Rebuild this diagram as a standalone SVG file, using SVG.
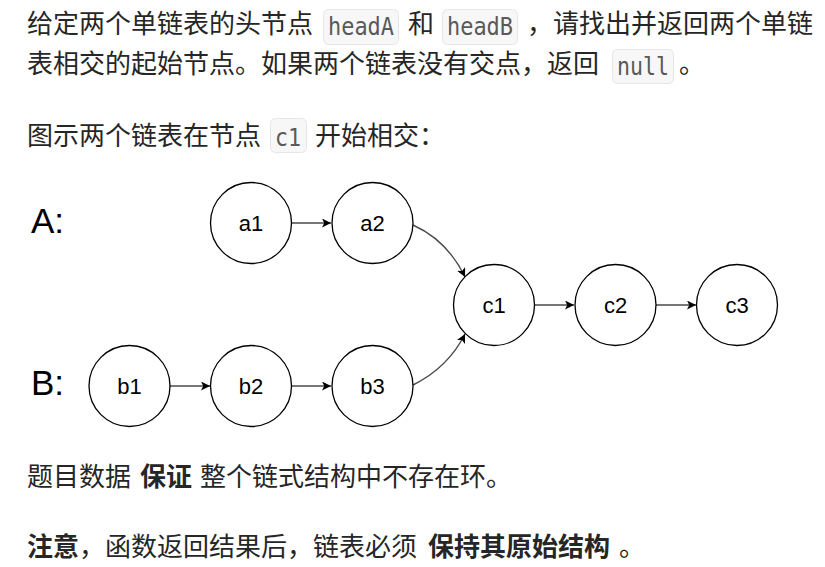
<svg xmlns="http://www.w3.org/2000/svg" width="825" height="567" viewBox="0 0 825 567">
<style>
.t{font-family:"Noto Sans CJK SC","Noto Sans",sans-serif;font-size:26px;fill:#262626}
.b{font-weight:bold}
.code{fill:#f7f7f7;stroke:#e6e6e6;stroke-width:1}
.ct{font-family:"DejaVu Sans Mono",monospace;font-size:24px;fill:#595959}
.node circle{fill:#fff;stroke:#000;stroke-width:1.3}
.node text{font-family:"Liberation Sans",Arial,sans-serif;font-size:22px;fill:#000;text-anchor:middle}
.lbl{font-family:"Liberation Sans",Arial,sans-serif;font-size:35px;fill:#000}
.edge{fill:none;stroke:#4a4a4a;stroke-width:1.4;marker-end:url(#ah)}
</style>
<defs>
<marker id="ah" viewBox="0 0 10 10" refX="10" refY="5" markerWidth="9" markerHeight="9" markerUnits="userSpaceOnUse" orient="auto">
<path d="M0,0 L10,5 L0,10 L2.5,5 Z" fill="#000"/>
</marker>
</defs>
<rect width="825" height="567" fill="#fff"/>

<g id="para1">
<text class="t" x="27" y="33">给定两个单链表的头节点</text>
<rect class="code" x="323.5" y="9.5" width="75" height="35" rx="5"/>
<text class="ct" x="328" y="35" textLength="66" lengthAdjust="spacingAndGlyphs">headA</text>
<text class="t" x="408" y="33">和</text>
<rect class="code" x="442.5" y="9.5" width="75" height="35" rx="5"/>
<text class="ct" x="447" y="35" textLength="66" lengthAdjust="spacingAndGlyphs">headB</text>
<text class="t" x="527" y="33">，请找出并返回两个单链</text>
<text class="t" x="27" y="73">表相交的起始节点。如果两个链表没有交点，返回</text>
<rect class="code" x="612.5" y="49.5" width="61" height="34" rx="5"/>
<text class="ct" x="617" y="75" textLength="52" lengthAdjust="spacingAndGlyphs">null</text>
<text class="t" x="679" y="73">。</text>
</g>
<g id="para2">
<text class="t" x="27" y="145">图示两个链表在节点</text>
<rect class="code" x="270.5" y="118.5" width="36" height="34" rx="5"/>
<text class="ct" x="275" y="146" textLength="26" lengthAdjust="spacingAndGlyphs">c1</text>
<text class="t" x="315" y="145">开始相交：</text>
</g>

<text class="lbl" x="31" y="233">A:</text>
<text class="lbl" x="31" y="395">B:</text>

<g id="connectors">
<line class="edge" x1="292" y1="223" x2="331" y2="223"/>
<line class="edge" x1="170" y1="386" x2="210" y2="386"/>
<line class="edge" x1="292" y1="386" x2="331" y2="386"/>
<line class="edge" x1="535" y1="305" x2="574" y2="305"/>
<line class="edge" x1="656" y1="305" x2="696" y2="305"/>
<path class="edge" d="M413,225 C433,234 452,250 465,277"/>
<path class="edge" d="M413,385 C433,375 452,360 465,334"/>
</g>

<g id="a1" class="node"><circle cx="251" cy="223" r="40.5"/><text x="251" y="231">a1</text></g>
<g id="a2" class="node"><circle cx="372.5" cy="223" r="40.5"/><text x="372.5" y="231">a2</text></g>
<g id="b1" class="node"><circle cx="129.5" cy="386" r="40.5"/><text x="129.5" y="394">b1</text></g>
<g id="b2" class="node"><circle cx="251" cy="386" r="40.5"/><text x="251" y="394">b2</text></g>
<g id="b3" class="node"><circle cx="372.5" cy="386" r="40.5"/><text x="372.5" y="394">b3</text></g>
<g id="c1" class="node"><circle cx="494" cy="305" r="40.5"/><text x="494" y="313">c1</text></g>
<g id="c2" class="node"><circle cx="615.5" cy="305" r="40.5"/><text x="615.5" y="313">c2</text></g>
<g id="c3" class="node"><circle cx="737" cy="305" r="40.5"/><text x="737" y="313">c3</text></g>

<g id="para3">
<text class="t" x="27" y="486">题目数据</text>
<text class="t b" x="140" y="486">保证</text>
<text class="t" x="200" y="486">整个链式结构中不存在环。</text>
</g>
<g id="para4">
<text class="t" x="27" y="556"><tspan class="b">注意</tspan>，函数返回结果后，链表必须</text>
<text class="t b" x="428" y="556">保持其原始结构</text>
<text class="t" x="619" y="556">。</text>
</g>
</svg>
